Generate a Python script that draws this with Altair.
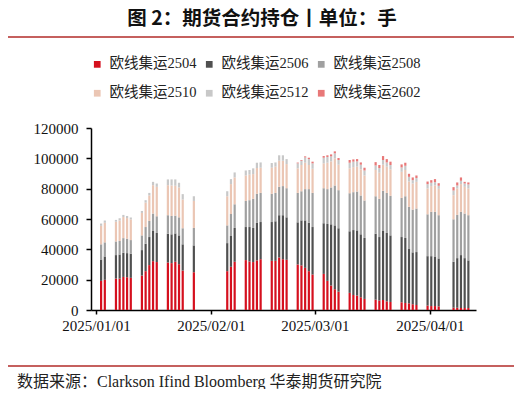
import altair as alt
import pandas as pd

dates = [
    "2025/01/02", "2025/01/03", "2025/01/06", "2025/01/07", "2025/01/08", "2025/01/09", "2025/01/10",
    "2025/01/13", "2025/01/14", "2025/01/15", "2025/01/16", "2025/01/17",
    "2025/01/20", "2025/01/21", "2025/01/22", "2025/01/23", "2025/01/24", "2025/01/27",
    "2025/02/05", "2025/02/06", "2025/02/07",
    "2025/02/10", "2025/02/11", "2025/02/12", "2025/02/13", "2025/02/14",
    "2025/02/17", "2025/02/18", "2025/02/19", "2025/02/20", "2025/02/21",
    "2025/02/24", "2025/02/25", "2025/02/26", "2025/02/27", "2025/02/28",
    "2025/03/03", "2025/03/04", "2025/03/05", "2025/03/06", "2025/03/07",
    "2025/03/10", "2025/03/11", "2025/03/12", "2025/03/13", "2025/03/14",
    "2025/03/17", "2025/03/18", "2025/03/19", "2025/03/20", "2025/03/21",
    "2025/03/24", "2025/03/25", "2025/03/26", "2025/03/27", "2025/03/28",
    "2025/03/31", "2025/04/01", "2025/04/02", "2025/04/03",
    "2025/04/07", "2025/04/08", "2025/04/09", "2025/04/10", "2025/04/11",
]

series_names = ["欧线集运2504", "欧线集运2506", "欧线集运2508", "欧线集运2510", "欧线集运2512", "欧线集运2602"]
series_colors = ["#D5101E", "#505050", "#A0A0A0", "#EBC6B4", "#C8C8C8", "#E87878"]

c2504 = [19200, 19900, 20700, 20700, 21800, 21600, 21200, 22700, 25600, 29600, 32200, 31600,
         31300, 30900, 31800, 30200, 26000, 24900, 25600, 28500, 31800,
         32900, 32000, 31600, 32700, 33500, 32400, 32400, 34600, 33500, 33100,
         30000, 29400, 27800, 25600, 23400, 23800, 19200, 16100, 13700, 12100,
         11300, 9900, 9500, 8400, 7300, 6800, 6200, 6600, 5700, 5300,
         5100, 4600, 4400, 3800, 3300, 2900, 2600, 2600, 2400,
         1500, 1500, 1300, 1300, 1300]
c2506 = [14100, 15400, 15500, 15900, 15900, 15900, 15900, 16800, 18100, 18500, 19900, 19200,
         19000, 19000, 18700, 19000, 17300, 17700, 18500, 20300, 22300,
         21800, 22700, 22500, 24700, 24500, 25600, 26100, 27900, 29000, 28000,
         27800, 29700, 31300, 32000, 31300, 33400, 37500, 40400, 42100, 41800,
         40600, 42800, 43000, 41500, 40200, 43500, 41900, 45500, 45100, 43900,
         43000, 42900, 35800, 34200, 34900, 32600, 32900, 32700, 31600,
         30300, 32700, 34900, 32900, 31400]
c2508 = [10000, 9300, 9000, 8900, 9700, 9500, 9000, 9700, 11000, 10600, 11500, 11000,
         12200, 12100, 11700, 11900, 10600, 11500, 11700, 14500, 15600,
         17200, 17700, 19200, 19200, 19200, 18600, 18700, 18700, 19200, 19200,
         19400, 19200, 20600, 22100, 22500, 23100, 23000, 24300, 26300, 25100,
         25100, 25000, 25600, 25600, 24700, 24700, 25200, 26500, 26400, 26100,
         25800, 27500, 27800, 28200, 28700, 27600, 29200, 29400, 28500,
         28000, 28500, 28500, 29400, 29800]
c2510 = [12200, 12900, 13000, 13500, 13900, 13600, 13600, 14800, 16100, 16800, 18700, 19400,
         19800, 20100, 19700, 19700, 18900, 17800, 19200, 19700, 17700,
         16800, 16800, 16300, 17000, 16600, 17200, 17300, 17200, 16700, 15900,
         16200, 17300, 17400, 15900, 15900, 16400, 17400, 17200, 17900, 16800,
         16400, 16500, 16400, 17200, 16500, 17300, 17200, 17200, 17300, 17400,
         17200, 17300, 16700, 17200, 17600, 17000, 17000, 17400, 17400,
         15900, 17400, 18300, 17600, 17600]
c2512 = [1500, 1500, 1200, 1500, 1400, 1400, 1300, 1300, 1600, 1700, 2200, 2200,
         3800, 4000, 4200, 3100, 3600, 3100, 3300, 3300, 3300,
         3300, 3100, 3800, 3500, 3500, 3100, 2800, 3600, 3600, 3300,
         3300, 2800, 3500, 3900, 3600, 3700, 3800, 3300, 3300, 3100,
         3700, 3600, 3500, 3100, 3300, 3000, 3100, 3100, 2800, 2900,
         2900, 2800, 3100, 2200, 2500, 2900, 2200, 2200, 2000,
         3100, 2000, 2200, 2200, 2700]
c2602 = [0, 0, 0, 0, 0, 0, 0, 0, 0, 0, 0, 0,
         0, 0, 0, 0, 0, 0, 0, 0, 0,
         0, 0, 0, 0, 0, 0, 0, 0, 0, 0,
         500, 500, 700, 900, 1100, 1100, 1100, 1300, 1300, 1300,
         1800, 1500, 1500, 1500, 1800, 2200, 2000, 2600, 2200, 2200,
         2000, 2000, 2000, 1800, 1700, 1700, 1700, 2000, 1700,
         2200, 2000, 2200, 1100, 1300]

y_ticks = [0, 20000, 40000, 60000, 80000, 100000, 120000]

title_text = "图 2：期货合约持仓丨单位：手"
source_text = "数据来源：Clarkson Ifind Bloomberg 华泰期货研究院"

cols = [c2504, c2506, c2508, c2510, c2512, c2602]
rows = []
for si, (name, vals) in enumerate(zip(series_names, cols)):
    for d, v in zip(dates, vals):
        rows.append({"date": d, "series": name, "idx": si, "value": v})
df = pd.DataFrame(rows)

serif = "Liberation Serif, Noto Sans CJK SC"

bars = alt.Chart(df).mark_bar(width=2.2, xOffset=1.4).encode(
    x=alt.X("date:T",
            scale=alt.Scale(domain=[alt.DateTime(year=2025, month=1, date=1),
                                    alt.DateTime(year=2025, month=4, date=12, hours=2)], nice=False),
            axis=alt.Axis(title=None, format="%Y/%m/%d",
                          values=[alt.DateTime(year=2025, month=1, date=1),
                                  alt.DateTime(year=2025, month=2, date=1),
                                  alt.DateTime(year=2025, month=3, date=1),
                                  alt.DateTime(year=2025, month=4, date=1)],
                          tickSize=4, labelPadding=4, labelFlush=False)),
    y=alt.Y("value:Q", stack="zero",
            scale=alt.Scale(domain=[0, 120000], nice=False),
            axis=alt.Axis(title=None, values=y_ticks, format="d", tickSize=5, labelPadding=8)),
    color=alt.Color("series:N",
                    scale=alt.Scale(domain=series_names, range=series_colors),
                    legend=alt.Legend(title=None, orient="none", direction="horizontal",
                                      legendX=-1, legendY=-71,
                                      columns=3, symbolType="square", symbolSize=45,
                                      symbolStrokeWidth=0, labelOffset=5, columnPadding=5,
                                      rowPadding=14, padding=0,
                                      labelFont=serif, labelFontSize=14.5, labelColor="#222222")),
    order=alt.Order("idx:Q", sort="ascending"),
)

title = alt.Chart(pd.DataFrame({"t": [title_text]})).mark_text(
    font="Noto Sans CJK SC", fontSize=19.5, fontWeight="bold", color="#111111",
    align="center", baseline="middle"
).encode(text="t:N", x=alt.value(171), y=alt.value(-109.5))

top_line = alt.Chart(pd.DataFrame({"a": [0]})).mark_rule(color="#C5605E", strokeWidth=2).encode(
    x=alt.value(-86), x2=alt.value(426), y=alt.value(-91))

bottom_line = alt.Chart(pd.DataFrame({"a": [0]})).mark_rule(color="#C5605E", strokeWidth=2).encode(
    x=alt.value(-86), x2=alt.value(426), y=alt.value(238))

source = alt.Chart(pd.DataFrame({"t": [source_text]})).mark_text(
    font=serif, fontSize=16, color="#222222", align="left", baseline="middle"
).encode(text="t:N", x=alt.value(-74), y=alt.value(254))

chart = alt.layer(bars, title, top_line, bottom_line, source).properties(
    width=385, height=182,
    autosize=alt.AutoSizeParams(type="none"),
    padding={"left": 83, "top": 120, "right": 38, "bottom": 79},
).configure_view(stroke=None).configure_axis(
    grid=False, domainColor="#000000", domainWidth=1.5, tickColor="#000000", tickWidth=1.5,
    labelFont=serif, labelFontSize=15, labelColor="#111111",
)

chart.save("out.html", embed_options={"renderer": "svg", "actions": False})
